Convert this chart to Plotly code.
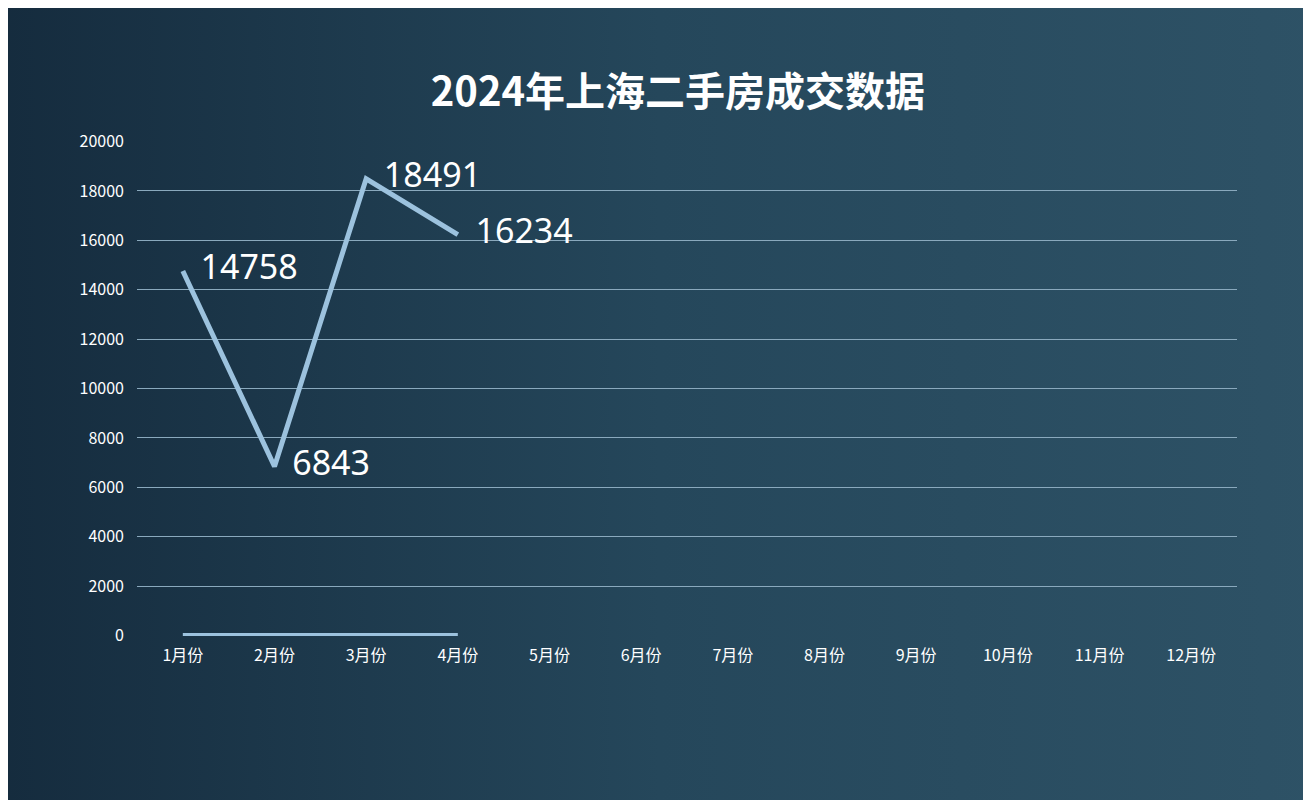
import base64
import plotly.graph_objects as go

# 数据
months = [f"{i}月份" for i in range(1, 13)]
deals = [14758, 6843, 18491, 16234]
zero_series = [0, 0, 0, 0]
y_ticks = list(range(0, 20001, 2000))

svg = (
    '<svg xmlns="http://www.w3.org/2000/svg" width="1311" height="800">'
    '<defs><linearGradient id="g" x1="0" y1="0" x2="1" y2="0">'
    '<stop offset="0" stop-color="#13283a"/><stop offset="0.45" stop-color="#25475b"/>'
    '<stop offset="1" stop-color="#31566a"/></linearGradient></defs>'
    '<rect width="1311" height="800" fill="url(#g)"/></svg>'
)
bg = "data:image/svg+xml;base64," + base64.b64encode(svg.encode()).decode()

fig = go.Figure()
fig.add_trace(go.Scatter(
    x=months[:4], y=zero_series, mode="lines",
    line=dict(color="#9cc2de", width=5), hoverinfo="skip",
))
fig.add_trace(go.Scatter(
    x=months[:4], y=deals, mode="lines+text",
    text=[f"  {v}" for v in deals], textposition="middle right",
    textfont=dict(size=34, color="white", family="Noto Sans"),
    line=dict(color="#9cc2de", width=5),
))

fig.update_layout(
    width=1311, height=800,
    margin=dict(l=129, r=82, t=133, b=172),
    paper_bgcolor="#1f3c50", plot_bgcolor="rgba(0,0,0,0)",
    showlegend=False,
    font=dict(family="Noto Sans CJK SC", color="white", size=16),
    title=dict(text="<b>2024年上海二手房成交数据</b>", x=0.511, xanchor="center",
               y=0.895, yanchor="middle", font=dict(size=40, color="white")),
    images=[dict(source=bg, xref="paper", yref="paper", x=-0.2, y=1.4,
                 sizex=1.5, sizey=1.9, sizing="stretch", layer="below",
                 xanchor="left", yanchor="top")],
    xaxis=dict(categoryorder="array", categoryarray=months, range=[-0.5, 11.5],
               showgrid=False, zeroline=False, ticks="", ticklabelstandoff=8),
    yaxis=dict(range=[-20, 20020], tickvals=y_ticks, tickformat="d",
               gridcolor="#8aa9bd", gridwidth=1, zeroline=False, ticks="",
               ticklabelstandoff=12),
)
fig.update_xaxes(type="category")
fig.write_html("out.html")
